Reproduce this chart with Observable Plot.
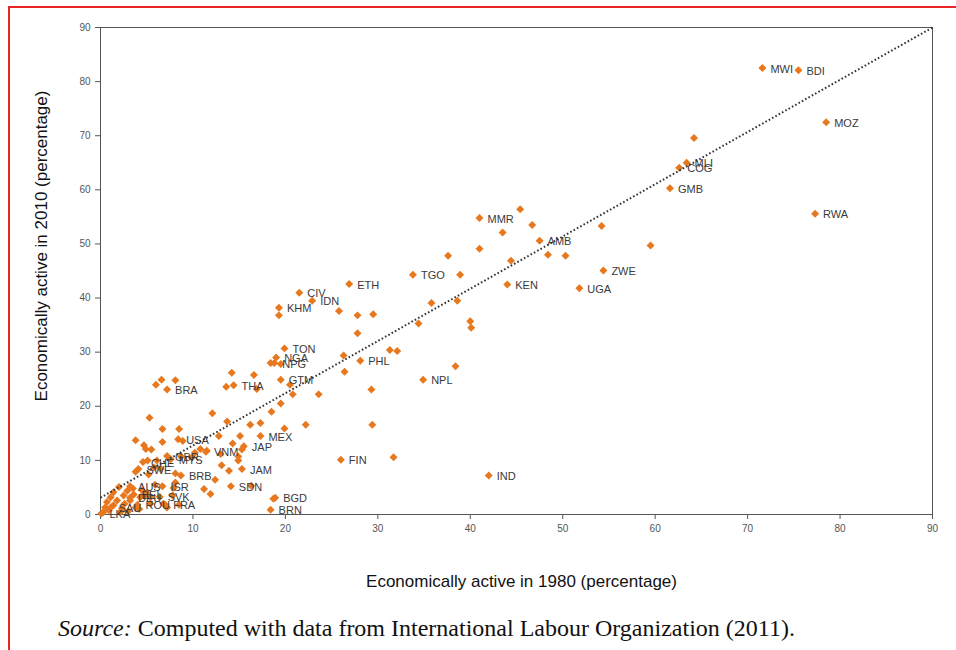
<!DOCTYPE html>
<html>
<head>
<meta charset="utf-8">
<script src="https://cdn.jsdelivr.net/npm/d3@7"></script>
<script src="https://cdn.jsdelivr.net/npm/@observablehq/plot@0.6"></script>
<style>
  html, body { margin: 0; padding: 0; background: #fff; }
  body { width: 956px; height: 650px; position: relative; overflow: hidden; font-family: "Liberation Sans", Arial, sans-serif; }
  #frame { position: absolute; left: 8px; top: 6px; width: 1000px; height: 700px; border-left: 2px solid #e8262a; border-top: 2px solid #e8262a; box-sizing: border-box; pointer-events: none; }
  #chart { position: absolute; left: 0; top: 0; }
  #ytitle { position: absolute; left: 42px; top: 246px; transform: translate(-50%, -50%) rotate(-90deg); font-size: 17px; color: #111; white-space: nowrap; }
  #caption { position: absolute; left: 58px; top: 615px; font-family: "Liberation Serif", "Times New Roman", serif; font-size: 24px; color: #111; white-space: nowrap; }
</style>
</head>
<body>
<div id="frame"></div>
<div id="chart"></div>
<div id="ytitle"></div>
<div id="caption"><i>Source:</i> Computed with data from International Labour Organization (2011).</div>
<script>
// Values (percent economically active, 1980 vs 2010)
const x1980 = [
  71.6, 75.5, 78.5, 77.3, 61.6, 63.4, 62.6, 54.4, 51.8, 47.5, 44.0, 41.0, 33.8, 26.9, 34.9, 28.1, 42.0, 26.0,
  21.5, 22.9, 19.3, 19.9, 19.0, 18.8, 19.5, 14.4, 7.2, 17.3, 15.5, 11.4, 15.3, 14.1, 18.9, 18.4,
  8.4, 7.2, 7.6, 4.1, 4.6, 8.7, 6.7, 3.2, 6.4, 7.0, 4.0, 1.1, 0.1, 3.2, 3.6,
  64.2, 59.5, 54.2, 45.4, 46.7, 43.5, 41.0, 37.6, 44.4, 48.4, 50.3, 38.9, 25.8, 27.8, 29.5, 35.8, 38.6,
  27.8, 34.4, 40.0, 40.1, 26.3, 31.3, 32.1, 26.4, 38.4, 29.3, 19.3, 18.4, 19.5, 14.2, 16.6, 20.5, 13.6,
  16.9, 20.8, 23.6, 12.1, 18.5, 19.5, 13.7, 16.2, 17.3, 19.9, 22.2, 29.4, 15.1, 12.8, 15.3, 14.3, 10.2,
  13.0, 14.9, 14.9, 13.1, 13.9, 31.7, 12.4, 11.2, 11.9, 16.3, 18.7, 6.6, 6.0, 8.1, 5.3, 6.7, 8.5, 3.8,
  6.7, 8.9, 4.7, 4.9, 5.5, 10.8, 11.5, 8.7, 9.9, 6.1, 5.1, 3.8, 6.5, 5.8, 5.2, 8.1, 8.1, 7.9, 5.9, 2.0,
  1.4, 2.9, 1.1, 2.5, 4.3, 4.7, 5.4, 3.2, 1.8, 0.7, 0.5, 1.4, 2.3, 3.8, 5.4, 6.8, 7.8, 7.2, 8.5, 0.3,
  4.5, 5.0, 3.5, 2.6, 0.9, 2.2, 3.0, 4.2
];
const y2010 = [
  82.5, 82.1, 72.5, 55.6, 60.3, 65.0, 64.1, 45.1, 41.8, 50.6, 42.5, 54.8, 44.3, 42.6, 24.9, 28.4, 7.2, 10.1,
  41.0, 39.5, 38.2, 30.7, 29.0, 28.0, 24.9, 23.9, 23.1, 14.5, 12.6, 11.6, 8.4, 5.2, 3.1, 0.9,
  13.9, 10.8, 10.2, 8.4, 9.7, 7.2, 5.2, 5.2, 3.3, 1.8, 1.8, 1.3, 0.2, 3.1, 3.7,
  69.6, 49.7, 53.3, 56.4, 53.5, 52.1, 49.1, 47.8, 46.9, 48.0, 47.8, 44.3, 37.6, 36.8, 37.0, 39.1, 39.5,
  33.5, 35.3, 35.7, 34.5, 29.4, 30.4, 30.2, 26.4, 27.4, 23.1, 36.8, 28.0, 27.8, 26.2, 25.8, 24.0, 23.6,
  23.2, 22.2, 22.2, 18.7, 19.0, 20.5, 17.2, 16.6, 16.9, 15.9, 16.6, 16.6, 14.5, 14.5, 12.0, 13.1, 11.4,
  11.2, 10.7, 10.0, 9.1, 8.1, 10.6, 6.4, 4.7, 3.8, 5.3, 2.9, 24.9, 24.0, 24.8, 17.9, 15.8, 15.8, 13.7,
  13.4, 13.6, 12.8, 12.1, 12.0, 12.1, 11.8, 10.7, 10.6, 10.0, 10.0, 7.9, 8.4, 8.7, 7.4, 7.6, 5.9, 4.9, 5.5, 5.1,
  4.1, 4.4, 3.2, 3.5, 3.2, 3.5, 3.2, 2.6, 2.6, 2.3, 1.3, 1.7, 1.1, 1.3, 2.0, 2.0, 3.5, 1.3, 1.8, 0.4,
  4.5, 4.0, 4.8, 2.0, 0.8, 0.5, 0.6, 1.0
];
const codes = [
  "MWI", "BDI", "MOZ", "RWA", "GMB", "MLI", "COG", "ZWE", "UGA", "AMB", "KEN", "MMR", "TGO", "ETH", "NPL", "PHL", "IND", "FIN",
  "CIV", "IDN", "KHM", "TON", "NGA", "NPG", "GTM", "THA", "BRA", "MEX", "JAP", "VNM", "JAM", "SDN", "BGD", "BRN",
  "USA", "GBR", "MYS", "SWE", "CHE", "BRB", "ISR", "AUS", "SVK", "FRA", "ROU", "SAU", "LKA", "DEU", "BEL"
];
// Dotted reference line end points
const trendX = [0, 90];
const trendY = [3.1, 90];
const xTicks = [0, 10, 20, 30, 40, 50, 60, 70, 80, 90];
const yTicks = [0, 10, 20, 30, 40, 50, 60, 70, 80, 90];
const xTitle = "Economically active in 1980 (percentage)";
const yTitle = "Economically active in 2010 (percentage)";

const points = x1980.map((x, i) => ({x, y: y2010[i], code: codes[i] || ""}));
const labelled = points.filter(d => d.code);
const trend = trendX.map((x, i) => ({x, y: trendY[i]}));

const chart = Plot.plot({
  width: 956,
  height: 600,
  marginLeft: 100,
  marginRight: 24,
  marginTop: 27,
  marginBottom: 86,
  style: {background: "transparent", fontFamily: "'Liberation Sans', Arial, sans-serif", fontSize: "10px", color: "#555"},
  x: {domain: [0, 90], ticks: xTicks, tickSize: 5, tickPadding: 5, label: null},
  y: {domain: [0, 90], ticks: yTicks, tickSize: 5, tickPadding: 5, label: null},
  marks: [
    Plot.frame({stroke: "#555", strokeWidth: 1}),
    Plot.dot(points, {x: "x", y: "y", symbol: "diamond2", r: 3.6, fill: "#e8781e", stroke: "none"}),
    Plot.text(labelled, {x: "x", y: "y", text: "code", dx: 8, dy: 1, textAnchor: "start", fill: "#3a3a3a", fontSize: 11}),
    Plot.line(trend, {x: "x", y: "y", stroke: "#333", strokeWidth: 2, strokeDasharray: "1.6,2.2", strokeLinecap: "butt"}),
    Plot.text([xTitle], {frameAnchor: "bottom", dx: 5, dy: 67, fontSize: 17, fill: "#111", lineAnchor: "middle"})
  ]
});
document.getElementById("chart").appendChild(chart);
document.getElementById("ytitle").textContent = yTitle;
</script>
</body>
</html>
